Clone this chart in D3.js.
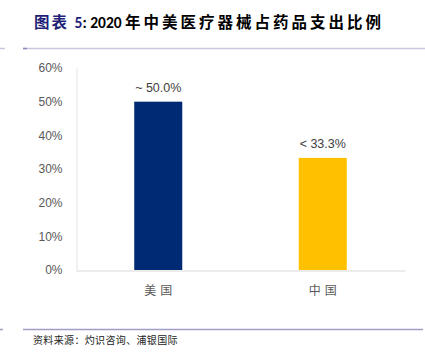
<!DOCTYPE html>
<html><head><meta charset="utf-8">
<script src="https://cdn.jsdelivr.net/npm/d3@7"></script>
<style>
body{margin:0;background:#fff;}
svg{display:block;}
</style></head>
<body>
<svg id="c" width="425" height="357"></svg>
<script>
const categories = ["美国", "中国"];
const values = [50.0, 33.3];
const valueLabels = ["~ 50.0%", "< 33.3%"];
const colors = ["#002A73", "#FFC000"];
const yTicks = [0, 10, 20, 30, 40, 50, 60];

const svg = d3.select("#c");
const cjk = "'Noto Sans CJK SC', sans-serif";
const lat = "'Liberation Sans', Arial, sans-serif";
const latT = "Carlito, 'Open Sans', sans-serif";

// title
const t = svg.append("text").attr("x", 34).attr("y", 28)
  .attr("font-size", 15.5).attr("font-weight", "bold").attr("font-family", cjk);
t.append("tspan").attr("fill", "#1F1F78").attr("letter-spacing", 2).text("图表 ");
t.append("tspan").attr("fill", "#1F1F78").attr("font-family", latT).text(" 5");
t.append("tspan").attr("fill", "#000").attr("font-family", latT).text(": 2020 ");
t.append("tspan").attr("fill", "#000").attr("letter-spacing", 3).text("年中美医疗器械占药品支出比例");

// rule lines
svg.append("line").attr("x1", 0).attr("x2", 5).attr("y1", 48.5).attr("y2", 48.5).attr("stroke", "#C9C7DF").attr("stroke-width", 1.5);
svg.append("line").attr("x1", 23).attr("x2", 425).attr("y1", 48.5).attr("y2", 48.5).attr("stroke", "#C9C7DF").attr("stroke-width", 1.5);
svg.append("line").attr("x1", 23).attr("x2", 27).attr("y1", 48.5).attr("y2", 48.5).attr("stroke", "#8E8AB8").attr("stroke-width", 1.5);
svg.append("line").attr("x1", 0).attr("x2", 3).attr("y1", 329.5).attr("y2", 329.5).attr("stroke", "#A09DC6").attr("stroke-width", 1.5);
svg.append("line").attr("x1", 23).attr("x2", 423).attr("y1", 329.5).attr("y2", 329.5).attr("stroke", "#A09DC6").attr("stroke-width", 1.5);

// source
svg.append("text").attr("x", 33).attr("y", 344).attr("font-size", 10).attr("font-family", cjk)
  .attr("fill", "#222").attr("letter-spacing", 0.35).text("资料来源：灼识咨询、浦银国际");

// chart
const x = d3.scaleBand().domain(categories).range([76, 405]).paddingInner(0.708).paddingOuter(0.354);
const y = d3.scaleLinear().domain([0, 60]).range([270, 68]);

const yAxis = d3.axisLeft(y).tickValues(yTicks).tickFormat(d => d + "%").tickSize(0).tickPadding(14);
const gy = svg.append("g").attr("transform", "translate(76.5,0)").call(yAxis);
gy.select(".domain").attr("stroke", "#E3E3E3");
gy.selectAll("text").attr("font-family", lat).attr("font-size", 12).attr("fill", "#595959");

// bars
svg.selectAll("rect.bar").data(values).join("rect").attr("class", "bar")
  .attr("x", (d, i) => x(categories[i])).attr("width", x.bandwidth())
  .attr("y", d => y(d)).attr("height", d => y(0) - y(d))
  .attr("fill", (d, i) => colors[i]);

// x axis
const xAxis = d3.axisBottom(x).tickSize(0).tickPadding(16);
const gx = svg.append("g").attr("transform", "translate(0,270.5)").call(xAxis);
gx.select(".domain").attr("stroke", "#D9D9D9");
gx.selectAll("text").attr("font-family", cjk).attr("font-size", 12).attr("fill", "#595959").attr("letter-spacing", 4).attr("dx", 2);

// value labels
svg.selectAll("text.vl").data(values).join("text").attr("class", "vl")
  .attr("x", (d, i) => x(categories[i]) + x.bandwidth() / 2)
  .attr("y", d => y(d) - 10)
  .attr("text-anchor", "middle").attr("font-family", lat).attr("font-size", 12.5)
  .attr("fill", "#404040").text((d, i) => valueLabels[i]);
</script>
</body></html>
